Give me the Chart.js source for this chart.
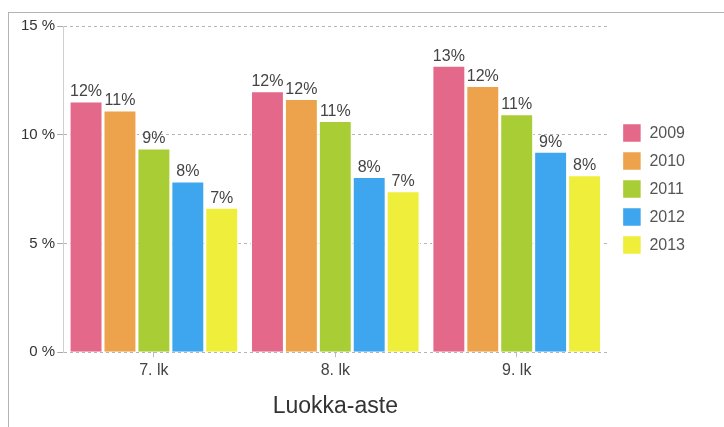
<!doctype html>
<html lang="fi">

<head>
    <meta charset="utf-8" />
    <title>Luokka-aste</title>
    <script src="https://cdn.jsdelivr.net/npm/chart.js@4.4.1/dist/chart.umd.min.js"></script>
    <style>
        body {
            margin: 0;
            background: #fff;
        }
        #frame {
            position: absolute;
            left: 8px;
            top: 12px;
            width: 715px;
            height: 414px;
            border-top: 1px solid #b3b3b3;
            border-left: 1px solid #b3b3b3;
        }
        #myChart {
            display: block;
        }
    </style>
</head>

<body>
    <div id="frame">
        <canvas id="myChart" width="715" height="414"></canvas>
    </div>

    <script>
        const categories = ['7. lk', '8. lk', '9. lk'];
        const years = ['2009', '2010', '2011', '2012', '2013'];
        const values2009 = [11.55, 12.02, 13.19];
        const values2010 = [11.14, 11.67, 12.26];
        const values2011 = [9.39, 10.66, 10.97];
        const values2012 = [7.87, 8.08, 9.24];
        const values2013 = [6.67, 7.42, 8.16];
        const colors = ['#e4688a', '#eda34c', '#a9cd35', '#3ea5ef', '#eeee3b'];

        const font = "'Liberation Sans', Arial, sans-serif";
        const series = [values2009, values2010, values2011, values2012, values2013];

        // percentage labels above the bars
        const barLabels = {
            id: 'barLabels',
            afterLayout(chart) {
                // a bit more room between plot and legend
                chart.legend.left += 6;
                chart.legend.right += 6;
            },
            afterDatasetsDraw(chart) {
                const ctx = chart.ctx;
                ctx.save();
                ctx.font = '16px ' + font;
                ctx.fillStyle = '#444';
                ctx.textAlign = 'center';
                ctx.textBaseline = 'bottom';
                chart.data.datasets.forEach((ds, i) => {
                    const meta = chart.getDatasetMeta(i);
                    meta.data.forEach((bar, j) => {
                        ctx.fillText(Math.round(ds.data[j]) + '%', bar.x, bar.y - 1);
                    });
                });
                ctx.restore();
            }
        };

        const ctx = document.getElementById('myChart').getContext('2d');
        const myChart = new Chart(ctx, {
            type: 'bar',
            data: {
                labels: categories,
                datasets: years.map((y, i) => ({
                    label: y,
                    data: series[i],
                    backgroundColor: colors[i],
                    borderColor: '#fff',
                    borderWidth: 1.5,
                    categoryPercentage: 0.935,
                    barPercentage: 1
                }))
            },
            options: {
                responsive: false,
                animation: false,
                layout: {
                    padding: { left: 10, right: 35, top: 13, bottom: 7 }
                },
                plugins: {
                    legend: {
                        position: 'right',
                        fullSize: false,
                        labels: {
                            boxWidth: 19,
                            boxHeight: 19,
                            padding: 9,
                            color: '#555',
                            font: { family: font, size: 16 }
                        }
                    },
                    tooltip: { enabled: false }
                },
                scales: {
                    x: {
                        grid: {
                            offset: false,
                            drawOnChartArea: false,
                            drawTicks: true,
                            tickLength: 5,
                            color: '#bbb'
                        },
                        border: { display: false },
                        ticks: {
                            color: '#444',
                            padding: 4,
                            font: { family: font, size: 16 }
                        },
                        title: {
                            display: true,
                            text: 'Luokka-aste',
                            color: '#333',
                            padding: { top: 8, bottom: 0 },
                            font: { family: font, size: 23 }
                        }
                    },
                    y: {
                        min: 0,
                        max: 15,
                        ticks: {
                            stepSize: 5,
                            color: '#333',
                            padding: 2,
                            font: { family: font, size: 15 },
                            callback: v => v + ' %'
                        },
                        grid: {
                            color: '#b5b5b5',
                            tickLength: 6,
                            tickColor: '#aaa'
                        },
                        border: { display: true, color: '#d0d0d0', dash: [3, 3] }
                    }
                }
            },
            plugins: [barLabels]
        });
    </script>
</body>

</html>
